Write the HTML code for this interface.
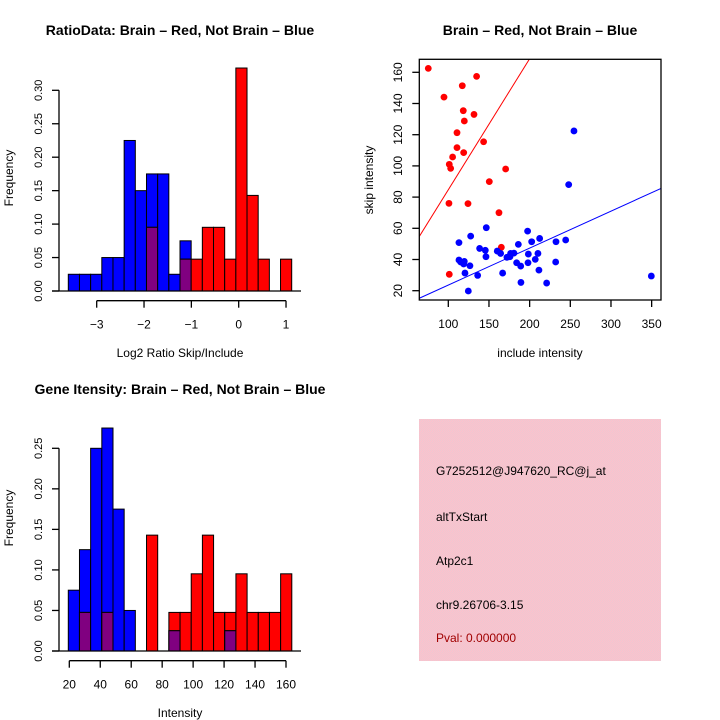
<!DOCTYPE html>
<html><head><meta charset="utf-8"><style>
html,body{margin:0;padding:0;background:#fff;}
svg{display:block;font-family:"Liberation Sans",sans-serif;}
</style></head><body>
<svg id="s" width="720" height="720" viewBox="0 0 720 720" xmlns="http://www.w3.org/2000/svg">
<defs>
<pattern id="pk" width="2" height="2" patternUnits="userSpaceOnUse"><rect width="2" height="2" fill="#ffc0cb"/><rect width="1" height="1" fill="#ecc9d2"/><rect x="1" y="1" width="1" height="1" fill="#ecc9d2"/></pattern>
</defs>
<text x="180" y="35" text-anchor="middle" font-size="14" font-weight="bold">RatioData: Brain – Red, Not Brain – Blue</text>
<text x="540" y="35" text-anchor="middle" font-size="14" font-weight="bold">Brain – Red, Not Brain – Blue</text>
<text x="180" y="394" text-anchor="middle" font-size="14" font-weight="bold">Gene Itensity: Brain – Red, Not Brain – Blue</text>
<g id="h1"></g>
<g id="h2"></g>
<g id="sc"></g>
<g>
<rect x="419" y="419" width="242" height="242" fill="url(#pk)"/>
<text x="436" y="475" font-size="12">G7252512@J947620_RC@j_at</text>
<text x="436" y="521" font-size="12">altTxStart</text>
<text x="436" y="565" font-size="12">Atp2c1</text>
<text x="436" y="609" font-size="12">chr9.26706-3.15</text>
<text x="436" y="642" font-size="12" fill="#a00000">Pval: 0.000000</text>
</g>
</svg>
<script>
// Ratio histogram data
const ratioBinStart = -3.6, ratioBinWidth = 0.236;
const ratioBlue = [0.025,0.025,0.025,0.05,0.05,0.225,0.15,0.175,0.175,0.025,0.075,0,0,0,0,0,0,0,0,0];
const ratioRed  = [0,0,0,0,0,0,0,0.0952,0,0,0.0476,0.0476,0.0952,0.0952,0.0476,0.3333,0.1429,0.0476,0,0.0476];
const ratioXTicks = [-3,-2,-1,0,1];
const ratioYTicks = ["0.00","0.05","0.10","0.15","0.20","0.25","0.30"];
// Intensity histogram data
const intBinStart = 19.35, intBinWidth = 7.22;
const intBlue = [0.075,0.125,0.25,0.275,0.175,0.05,0,0,0,0.025,0,0,0,0,0.025,0,0,0,0,0];
const intRed  = [0,0.0476,0,0.0476,0,0,0,0.1429,0,0.0476,0.0476,0.0952,0.1429,0.0476,0.0476,0.0952,0.0476,0.0476,0.0476,0.0952];
const intXTicks = [20,40,60,80,100,120,140,160];
const intYTicks = ["0.00","0.05","0.10","0.15","0.20","0.25"];
// Scatter data
const redX = [75.4,94.7,117.2,134.8,118.4,131.6,119.7,110.7,110.7,105.3,118.9,101.2,102.9,143.4,170.5,150.4,100.8,124.2,162.3,165.2,101.2];
const redY = [162.5,144.1,151.4,157.4,135.4,133,128.8,121.3,111.7,105.7,108.5,101,98.4,115.5,98,89.9,76,75.8,70,47.8,30.5];
const blueX = [254.5,248,349.6,113.1,127.5,146.7,197.5,202.5,212.3,232.4,244.3,186.1,138.5,145.5,146.3,113.1,115.2,119.7,118.9,126.6,120.5,136.1,124.6,160.2,164.3,166.8,172.1,176.6,180.7,175.8,184,189,189.3,198.4,198,210.2,206.9,211.4,220.9,232];
const blueY = [122.4,88,29.4,50.8,55,60.4,58.2,51.4,53.5,51.4,52.5,49.7,47.1,45.9,41.8,39.7,38.4,38.8,37.1,36,31.3,29.8,19.8,45.4,43.9,31.3,41.4,43.9,44.1,41.8,37.9,35.8,25.3,43.5,37.9,43.9,40.1,33.2,24.9,38.4];
const redSlope = 0.84, redIntercept = 0.7;
const blueSlope = 0.237, blueIntercept = -0.1;
const scXTicks = [100,150,200,250,300,350];
const scYTicks = [20,40,60,80,100,120,140,160];

const NS = "http://www.w3.org/2000/svg";
function mk(parent, tag, attrs, txt){
  const e = document.createElementNS(NS, tag);
  for (const k in attrs) e.setAttribute(k, attrs[k]);
  if (txt !== undefined) e.textContent = txt;
  parent.appendChild(e);
  return e;
}

function hist(g, binStart, binW, blue, red, xTicks, yTicks, xs, ys, y0, xAxisY, xlab, xlabY, frLabY){
  for (let i=0;i<blue.length;i++){
    const a = binStart+i*binW, b = a+binW;
    const x1 = xs(a), x2 = xs(b);
    const bv = blue[i], rv = red[i];
    const order = bv>=rv ? [[bv,'#0000ff'],[rv,'#ff0000']] : [[rv,'#ff0000'],[bv,'#0000ff']];
    for (const [v,c] of order){
      if (v<=0) continue;
      const r = mk(g,'rect',{x:x1,y:ys(v),width:x2-x1,height:y0-ys(v),fill:c,stroke:'#000','stroke-width':1});
      
      
    }
    if (bv>0 && rv>0){
      const m = Math.min(bv,rv);
      const r = mk(g,'rect',{x:x1,y:ys(m),width:x2-x1,height:y0-ys(m),fill:'#800080',stroke:'#000','stroke-width':1});
      
      
    }
  }
  mk(g,'line',{x1:52,x2:301,y1:y0,y2:y0,stroke:'#000','stroke-width':1.3});
  const yv = yTicks.map(Number);
  mk(g,'line',{x1:59,x2:59,y1:ys(yv[0]),y2:ys(yv[yv.length-1]),stroke:'#000','stroke-width':1.3});
  yTicks.forEach(t=>{
    const y = ys(Number(t));
    mk(g,'line',{x1:52,x2:59,y1:y,y2:y,stroke:'#000','stroke-width':1.3});
    const l = mk(g,'text',{x:0,y:0,'font-size':11,'text-anchor':'middle',transform:`translate(42,${y}) rotate(-90)`},t);
    
    
  });
  mk(g,'line',{x1:xs(xTicks[0]),x2:xs(xTicks[xTicks.length-1]),y1:xAxisY,y2:xAxisY,stroke:'#000','stroke-width':1.3});
  xTicks.forEach(t=>{
    const x = xs(t);
    mk(g,'line',{x1:x,x2:x,y1:xAxisY,y2:xAxisY+7,stroke:'#000','stroke-width':1.3});
    const l = mk(g,'text',{x:x,y:xAxisY+28,'font-size':12,'text-anchor':'middle'},String(t).replace('-','−'));
    
    
  });
  const xl = mk(g,'text',{x:180,y:xlabY,'font-size':12,'text-anchor':'middle'},xlab);
  
  
  const yl = mk(g,'text',{x:0,y:0,'font-size':12,'text-anchor':'middle',transform:`translate(13,${frLabY}) rotate(-90)`},'Frequency');
  
  
}

hist(document.getElementById('h1'), ratioBinStart, ratioBinWidth, ratioBlue, ratioRed, ratioXTicks, ratioYTicks,
  v => 96.7 + (v+3)*47.33, v => 291 - v*(200.7/0.30), 291, 300.7, 'Log2 Ratio Skip/Include', 357, 178);
hist(document.getElementById('h2'), intBinStart, intBinWidth, intBlue, intRed, intXTicks, intYTicks,
  v => 69.3 + (v-20)*(216.7/140), v => 651 - v*(202.7/0.25), 651, 660.7, 'Intensity', 717, 518);

(function(){
  const g = document.getElementById('sc');
  const L=419.3,R=661,T=59.3,B=300;
  const xs = v => 448.3 + (v-100)*0.8134;
  const ys = v => 290.7 - (v-20)*1.56;
  const xmin = 100 + (L-448.3)/0.8134, xmax = 100 + (R-448.3)/0.8134;
  mk(g,'defs',{}).innerHTML = `<clipPath id="cp"><rect x="${L}" y="${T}" width="${R-L}" height="${B-T}"/></clipPath>`;
  const cg = mk(g,'g',{'clip-path':'url(#cp)'});
  const rl = mk(cg,'line',{x1:xs(xmin),y1:ys(redSlope*xmin+redIntercept),x2:xs(xmax),y2:ys(redSlope*xmax+redIntercept),stroke:'#ff0000','stroke-width':1});
  
  
  const bl = mk(cg,'line',{x1:xs(xmin),y1:ys(blueSlope*xmin+blueIntercept),x2:xs(xmax),y2:ys(blueSlope*xmax+blueIntercept),stroke:'#0000ff','stroke-width':1});
  
  
  redX.forEach((x,i)=>{
    const c = mk(cg,'circle',{cx:xs(x),cy:ys(redY[i]),r:3.4,fill:'#ff0000'});
    
    
  });
  blueX.forEach((x,i)=>{
    const c = mk(cg,'circle',{cx:xs(x),cy:ys(blueY[i]),r:3.4,fill:'#0000ff'});
    
    
  });
  mk(g,'rect',{x:L,y:T,width:R-L,height:B-T,fill:'none',stroke:'#000','stroke-width':1.3});
  scXTicks.forEach(t=>{
    const x = xs(t);
    mk(g,'line',{x1:x,x2:x,y1:B,y2:B+7,stroke:'#000','stroke-width':1.3});
    const l = mk(g,'text',{x:x,y:B+28,'font-size':12,'text-anchor':'middle'},t);
    
    
  });
  scYTicks.forEach(t=>{
    const y = ys(t);
    mk(g,'line',{x1:L-7,x2:L,y1:y,y2:y,stroke:'#000','stroke-width':1.3});
    const l = mk(g,'text',{x:0,y:0,'font-size':12,'text-anchor':'middle',transform:`translate(402,${y}) rotate(-90)`},t);
    
    
  });
  const xl = mk(g,'text',{x:540,y:357,'font-size':12,'text-anchor':'middle'},'include intensity');
  
  
  const yl = mk(g,'text',{x:0,y:0,'font-size':12,'text-anchor':'middle',transform:`translate(373,180) rotate(-90)`},'skip intensity');
  
  
})();
</script>
</body></html>
